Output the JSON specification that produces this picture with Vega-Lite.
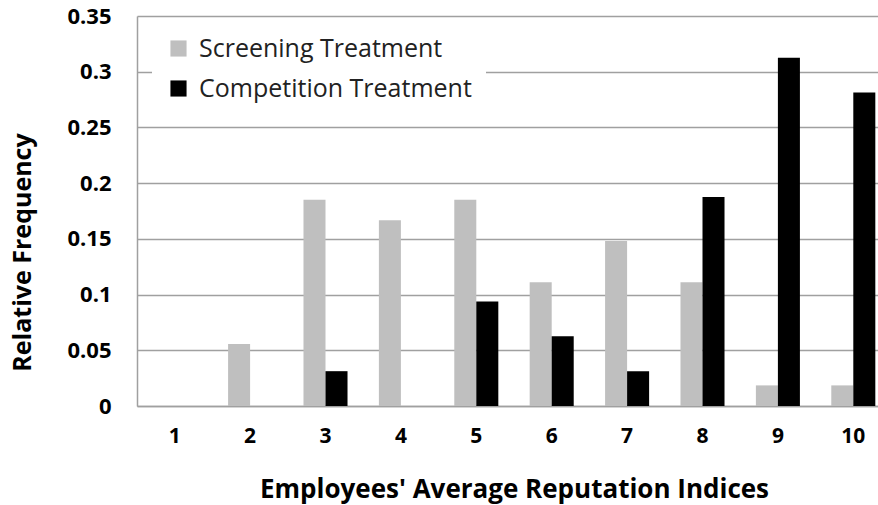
{
  "$schema": "https://vega.github.io/schema/vega-lite/v6.json",
  "width": 754,
  "height": 390,
  "autosize": {"type": "none"},
  "padding": {"left": 137, "top": 16, "right": 0, "bottom": 99},
  "background": "white",
  "config": {
    "font": "Open Sans",
    "view": {"stroke": null}
  },
  "data": {
    "values": [
      {"index": "1", "treatment": "Screening Treatment", "freq": 0},
      {"index": "2", "treatment": "Screening Treatment", "freq": 0.0556},
      {"index": "3", "treatment": "Screening Treatment", "freq": 0.1852},
      {"index": "4", "treatment": "Screening Treatment", "freq": 0.1667},
      {"index": "5", "treatment": "Screening Treatment", "freq": 0.1852},
      {"index": "6", "treatment": "Screening Treatment", "freq": 0.1111},
      {"index": "7", "treatment": "Screening Treatment", "freq": 0.1481},
      {"index": "8", "treatment": "Screening Treatment", "freq": 0.1111},
      {"index": "9", "treatment": "Screening Treatment", "freq": 0.0185},
      {"index": "10", "treatment": "Screening Treatment", "freq": 0.0185},
      {"index": "1", "treatment": "Competition Treatment", "freq": 0},
      {"index": "2", "treatment": "Competition Treatment", "freq": 0},
      {"index": "3", "treatment": "Competition Treatment", "freq": 0.03125},
      {"index": "4", "treatment": "Competition Treatment", "freq": 0},
      {"index": "5", "treatment": "Competition Treatment", "freq": 0.09375},
      {"index": "6", "treatment": "Competition Treatment", "freq": 0.0625},
      {"index": "7", "treatment": "Competition Treatment", "freq": 0.03125},
      {"index": "8", "treatment": "Competition Treatment", "freq": 0.1875},
      {"index": "9", "treatment": "Competition Treatment", "freq": 0.3125},
      {"index": "10", "treatment": "Competition Treatment", "freq": 0.28125}
    ]
  },
  "mark": {"type": "bar"},
  "encoding": {
    "x": {
      "field": "index",
      "type": "ordinal",
      "sort": ["1","2","3","4","5","6","7","8","9","10"],
      "scale": {"paddingInner": 0.416, "paddingOuter": 0.208},
      "axis": {
        "title": "Employees' Average Reputation Indices",
        "labelAngle": 0,
        "labelFontWeight": "bold",
        "labelFontSize": 21,
        "labelColor": "#000",
        "labelPadding": 19,
        "ticks": false,
        "domainColor": "#a0a0a0",
        "domainWidth": 1.5,
        "titleFontSize": 26,
        "titleFontWeight": "bold",
        "titleColor": "#000",
        "titlePadding": 30
      }
    },
    "xOffset": {
      "field": "treatment",
      "type": "nominal",
      "sort": ["Screening Treatment", "Competition Treatment"]
    },
    "y": {
      "field": "freq",
      "type": "quantitative",
      "scale": {"domain": [0, 0.35], "nice": false},
      "axis": {
        "title": "Relative Frequency",
        "values": [0, 0.05, 0.1, 0.15, 0.2, 0.25, 0.3, 0.35],
        "format": "~g",
        "labelFontWeight": "bold",
        "labelFontSize": 22,
        "labelColor": "#000",
        "labelPadding": 26,
        "ticks": false,
        "grid": true,
        "gridColor": "#a0a0a0",
        "gridWidth": 1.5,
        "domainColor": "#a0a0a0",
        "domainWidth": 1.5,
        "titleFontSize": 25,
        "titleFontWeight": "bold",
        "titleColor": "#000",
        "titleX": -102,
        "titleY": 236
      }
    },
    "color": {
      "field": "treatment",
      "type": "nominal",
      "scale": {
        "domain": ["Screening Treatment", "Competition Treatment"],
        "range": ["#bfbfbf", "#000000"]
      },
      "legend": {
        "title": null,
        "orient": "none",
        "legendX": 15,
        "legendY": 6,
        "fillColor": "white",
        "padding": 14,
        "symbolType": "square",
        "symbolSize": 260,
        "symbolStrokeWidth": 0,
        "labelFontSize": 25,
        "labelColor": "#222",
        "labelOffset": 8,
        "rowPadding": 14,
        "labelLimit": 400
      }
    }
  }
}
